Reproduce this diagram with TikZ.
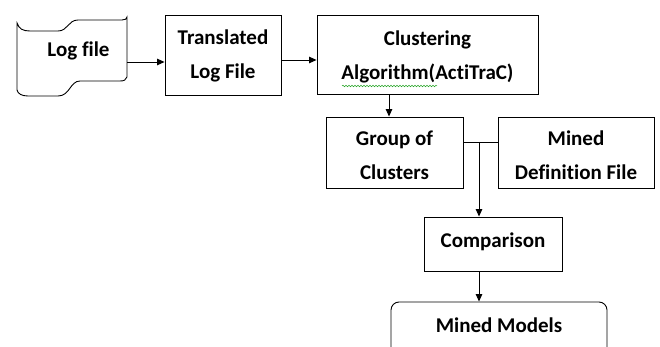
\documentclass[tikz,border=0pt]{standalone}
\usepackage{fontspec}
\setmainfont[Ligatures=NoCommon]{Carlito}
\usetikzlibrary{arrows.meta,decorations.pathmorphing}
\definecolor{squig}{RGB}{40,165,40}
\begin{document}
\begin{tikzpicture}[x=1pt,y=-1pt,
  lbl/.style={font=\bfseries\fontsize{21}{34}\selectfont},
  box/.style={draw, line width=0.9pt, align=center, inner sep=0pt, lbl},
  arr/.style={-{Triangle[length=7.5pt,width=6.5pt]}, line width=0.9pt},
  ln/.style={line width=0.9pt}]
\clip (0,0) rectangle (660,347);
\fill[white] (0,0) rectangle (660,347);
% log file (tape shape)
\draw[ln] (17,23) .. controls (19,29) and (23,31) .. (30,31) -- (58,31)
  .. controls (68,31) and (68,20) .. (78,20) -- (122,20)
  .. controls (125,20) and (127,19) .. (127,17) -- (127,77)
  .. controls (126,80) and (124,81) .. (120,81) -- (80,81)
  .. controls (70,81) and (70,96) .. (58,96) -- (28,96)
  .. controls (22,96) and (18,94) .. (17,90) -- cycle;
\node[inner sep=0pt, minimum width=110pt, minimum height=64pt] (log) at (72,62) {};
\node[lbl, anchor=base, inner sep=0pt] (logtext) at (78.5,57) {Log file};
% boxes
\node[box, minimum width=116pt, minimum height=80pt, text height=48pt, text depth=0pt] (trans) at (223,55) {Translated\\Log File};
\node[box, minimum width=221pt, minimum height=79pt, text height=51pt, text depth=0pt] (clust) at (427.5,54.5) {Clustering\\Algorithm(ActiTraC)};
\node[box, minimum width=137pt, minimum height=71pt, text height=55pt, text depth=0pt] (group) at (394.5,152.5) {Group of\\Clusters};
\node[box, minimum width=156pt, minimum height=71pt, text height=55pt, text depth=0pt] (mdf) at (576,152.5) {Mined\\Definition File};
\node[box, minimum width=138pt, minimum height=54pt, text height=14pt, text depth=8pt] (comp) at (493,244) {Comparison};
\node[box, rounded corners=8pt, minimum width=216pt, minimum height=60pt, text height=14pt, text depth=14pt] (mm) at (499,332) {Mined Models};
% spell-check squiggle
\draw[squig, line width=0.5pt, decorate, decoration={snake, amplitude=0.8pt, segment length=3pt}] (342,86) -- (437,86);
% connectors
\draw[arr] (log.east) -- (log.east -| trans.west);
\draw[arr] ([yshift=-5pt]trans.east) -- ([yshift=-5pt]trans.east -| clust.west);
\coordinate (g1) at ([xshift=-5.5pt]group.north);
\draw[arr] (g1 |- clust.south) -- (g1);
\coordinate (j) at (479,142);
\draw[ln] (j -| group.east) -- (j -| mdf.west);
\draw[arr] (j) -- (j |- comp.north);
\draw[arr] (j |- comp.south) -- (j |- mm.north);
\end{tikzpicture}
\end{document}
